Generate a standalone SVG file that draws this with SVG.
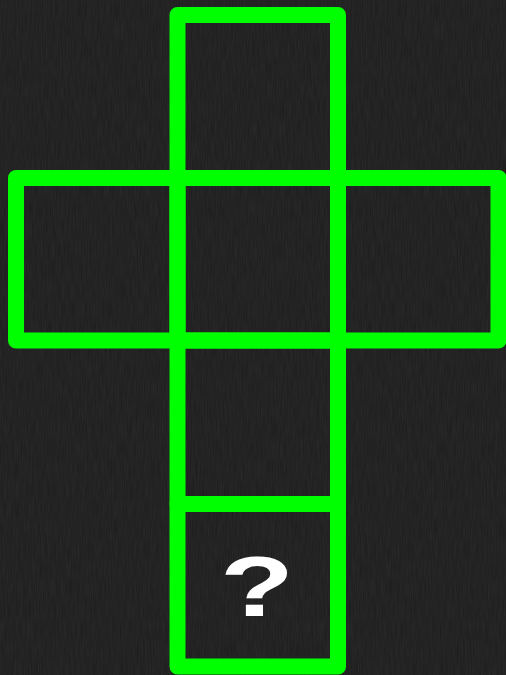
<svg xmlns="http://www.w3.org/2000/svg" width="506" height="675" viewBox="0 0 506 675">
<defs>
<style>
.sq{fill:none;stroke:#00ff00;stroke-width:16;stroke-linejoin:round}
.q{fill:#ffffff;font-family:"Liberation Sans",Arial,sans-serif;font-weight:900;font-size:86px}
</style>
<filter id="grain" x="0" y="0" width="100%" height="100%">
<feTurbulence type="fractalNoise" baseFrequency="0.8 0.05" numOctaves="2" seed="3" result="n"/>
<feColorMatrix in="n" type="matrix" values="0 0 0 0 0.15  0 0 0 0 0.15  0 0 0 0 0.15  0 0 0 0.18 0"/>
</filter>
</defs>
<rect id="background" x="0" y="0" width="506" height="675" fill="#1c1c1c"/>
<rect x="0" y="0" width="506" height="675" filter="url(#grain)"/>
<g id="connectors"></g>
<g id="square-top"><rect class="sq" x="177.5" y="15" width="160.5" height="163"/></g>
<g id="square-left"><rect class="sq" x="16" y="178" width="161.5" height="162.5"/></g>
<g id="square-center"><rect class="sq" x="177.5" y="178" width="160.5" height="162.5"/></g>
<g id="square-right"><rect class="sq" x="338" y="178" width="160.5" height="162.5"/></g>
<g id="square-lower"><rect class="sq" x="177.5" y="340.5" width="160.5" height="163.5"/></g>
<g id="square-bottom"><rect class="sq" x="177.5" y="504" width="160.5" height="162.5"/>
<text class="q" x="220" y="615.5" textLength="74" lengthAdjust="spacingAndGlyphs">?</text></g>
</svg>
